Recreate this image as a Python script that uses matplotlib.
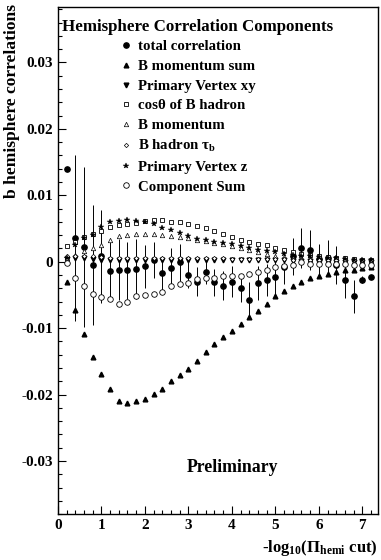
import matplotlib

matplotlib.use("Agg")
import matplotlib.pyplot as plt
from matplotlib.ticker import MultipleLocator

plt.rcParams["font.family"] = ["Liberation Serif", "DejaVu Serif"]
plt.rcParams["font.weight"] = "bold"
plt.rcParams["mathtext.fontset"] = "custom"
plt.rcParams["mathtext.rm"] = "Liberation Serif:bold"
plt.rcParams["mathtext.it"] = "Liberation Serif:bold:italic"
plt.rcParams["mathtext.bf"] = "Liberation Serif:bold"
plt.rcParams["axes.unicode_minus"] = False

# bin centres in -log10(Pi_hemi cut)
cut = [0.2, 0.4, 0.6, 0.8, 1.0, 1.2, 1.4, 1.6, 1.8, 2.0, 2.2, 2.4,
       2.6, 2.8, 3.0, 3.2, 3.4, 3.6, 3.8, 4.0, 4.2, 4.4, 4.6, 4.8,
       5.0, 5.2, 5.4, 5.6, 5.8, 6.0, 6.2, 6.4, 6.6, 6.8, 7.0, 7.2]

# correlations in units of 1e-3
total = [14.0, 3.5, 2.2, -0.5, 0.8, -1.4, -1.2, -1.3, -1.1, -0.7, 0.3, -1.7,
         -1.0, -0.1, -2.0, -3.0, -1.5, -3.1, -3.6, -3.0, -4.0, -5.8, -3.2, -2.8,
         -2.3, -0.8, 0.8, 2.0, 1.7, 0.4, 0.6, -0.5, -2.8, -5.2, -2.7, -2.3]
total_err = [0.0, 12.5, 12.0, 9.0, 7.0, 4.3, 4.6, 4.3, 4.5, 3.2, 2.7, 2.5,
             3.0, 2.8, 2.0, 2.2, 1.8, 2.0, 2.2, 2.3, 2.0, 2.8, 2.5, 2.4,
             2.5, 2.5, 2.8, 3.0, 3.0, 2.3, 2.7, 2.8, 2.7, 2.5, 0.5, 0.3]
bmom_sum = [-3.1, -7.3, -10.9, -14.3, -16.9, -19.1, -21.0, -21.3, -21.0, -20.7, -19.9, -19.2,
            -18.0, -17.1, -16.2, -14.9, -13.6, -12.4, -11.4, -10.4, -9.4, -8.4, -7.4, -6.3,
            -5.2, -4.4, -3.7, -3.1, -2.4, -2.2, -1.9, -1.5, -1.3, -1.3, -1.0, -0.8]
pv_xy = [0.4, 0.5, 0.5, 0.4, 0.3, 0.2, 0.2, 0.2, 0.2, 0.2, 0.2, 0.2,
         0.2, 0.2, 0.2, 0.2, 0.2, 0.2, 0.2, 0.2, 0.2, 0.2, 0.2, 0.2,
         0.2, 0.2, 0.1, 0.1, 0.1, 0.1, 0.0, 0.0, 0.0, 0.0, -0.1, -0.1]
cos_theta = [2.3, 3.0, 3.7, 4.1, 4.6, 5.2, 5.5, 5.6, 5.8, 6.1, 6.3, 6.2,
             6.0, 5.9, 5.7, 5.4, 5.1, 4.6, 4.2, 3.7, 3.3, 3.0, 2.7, 2.5,
             2.1, 1.7, 1.4, 1.2, 1.0, 0.8, 0.7, 0.6, 0.6, 0.4, 0.3, 0.3]
bmom = [0.5, 1.0, 1.6, 2.0, 2.5, 3.3, 3.8, 4.0, 4.1, 4.1, 4.1, 4.0,
        3.9, 3.7, 3.5, 3.3, 3.1, 2.8, 2.6, 2.3, 2.0, 1.8, 1.5, 1.2,
        0.9, 0.7, 0.6, 0.5, 0.4, 0.3, 0.2, 0.1, 0.0, 0.0, -0.1, -0.1]
tau_b = [0.8, 0.9, 0.9, 0.8, 0.7, 0.6, 0.6, 0.5, 0.5, 0.5, 0.5, 0.5,
         0.5, 0.5, 0.5, 0.5, 0.5, 0.5, 0.5, 0.4, 0.4, 0.4, 0.4, 0.4,
         0.4, 0.4, 0.3, 0.3, 0.3, 0.3, 0.3, 0.3, 0.2, 0.2, 0.2, 0.2]
pv_z = [0.5, 2.5, 3.5, 4.0, 5.2, 6.0, 6.1, 6.2, 6.1, 6.0, 5.6, 5.0,
        4.8, 4.3, 3.8, 3.4, 3.2, 3.0, 2.8, 2.6, 2.4, 2.1, 1.8, 1.6,
        1.4, 1.2, 1.0, 0.9, 0.8, 0.7, 0.6, 0.5, 0.4, 0.3, 0.2, 0.2]
comp_sum = [-0.2, -2.5, -3.6, -4.8, -5.3, -5.6, -6.4, -6.0, -5.2, -5.0, -4.8, -4.5,
            -3.6, -3.3, -3.2, -2.6, -2.5, -2.4, -2.2, -2.1, -2.1, -1.9, -1.6, -1.2,
            -0.8, -0.6, -0.5, -0.1, -0.3, -0.3, -0.3, -0.4, -0.4, -0.5, -0.5, -0.5]

labels = ["total correlation", "B momentum sum", "Primary Vertex xy",
          "cosθ of B hadron", "B momentum", "B hadron τ$_{\\rm b}$",
          "Primary Vertex z", "Component Sum"]


def scale(vals):
    return [v * 1e-3 for v in vals]


fig = plt.figure(figsize=(3.81, 5.6), dpi=100)
ax = fig.add_axes([0.152, 0.082, 0.840, 0.905])

ax.errorbar(cut, scale(total), yerr=scale(total_err), fmt="none",
            ecolor="black", elinewidth=0.7, capsize=0, zorder=2)

handles = []
styles = [
    (total, dict(marker="o", ms=3.8, mfc="black")),
    (bmom_sum, dict(marker="^", ms=3.4, mfc="black")),
    (pv_xy, dict(marker="v", ms=3.4, mfc="black")),
    (cos_theta, dict(marker="s", ms=3.4, mfc="white", mew=0.6)),
    (bmom, dict(marker="^", ms=3.2, mfc="white", mew=0.5)),
    (tau_b, dict(marker="D", ms=2.2, mfc="white", mew=0.5)),
    (pv_z, dict(marker="*", ms=3.8, mfc="black", mew=0.3)),
    (comp_sum, dict(marker="o", ms=4.0, mfc="white", mew=0.6)),
]
for (vals, st), lab in zip(styles, labels):
    (h,) = ax.plot(cut, scale(vals), ls="none", color="black", mec="black",
                   label=lab, zorder=3, **st)
    handles.append(h)

ax.set_xlim(0, 7.36)
ax.set_ylim(-0.038, 0.0383)
ax.xaxis.set_major_locator(MultipleLocator(1))
ax.xaxis.set_minor_locator(MultipleLocator(0.2))
ax.yaxis.set_minor_locator(MultipleLocator(0.002))
ax.set_yticks([-0.03, -0.02, -0.01, 0, 0.01, 0.02, 0.03])
ax.set_yticklabels(["-0.03", "-0.02", "-0.01", "0", "0.01", "0.02", "0.03"])
ax.tick_params(which="both", direction="in", labelsize=11, width=0.8)
ax.tick_params(which="major", length=6)
ax.tick_params(which="minor", length=3)
for sp in ax.spines.values():
    sp.set_linewidth(1.0)

fig.text(0.032, 0.992, "b hemisphere correlations", rotation=90, ha="center",
         va="top", fontsize=12.6, fontweight="bold")
fig.text(0.992, 0.021, "-log$_{10}$(Π$_{\\rm hemi}$ cut)", ha="right",
         va="center", fontsize=12, fontweight="bold")

ax.text(0.013, 0.976, "Hemisphere Correlation Components", transform=ax.transAxes,
        ha="left", va="top", fontsize=12.2, fontweight="bold")
leg = ax.legend(handles=handles, loc="upper left", bbox_to_anchor=(0.18, 0.947),
                frameon=False, fontsize=10.7, handlelength=0.6, handletextpad=0.5,
                labelspacing=0.42, borderaxespad=0, numpoints=1)
for t in leg.get_texts():
    t.set_fontweight("bold")

ax.text(0.545, 0.092, "Preliminary", transform=ax.transAxes, ha="center",
        va="center", fontsize=12.8, fontweight="bold")

fig.savefig("out.png", dpi=100)
